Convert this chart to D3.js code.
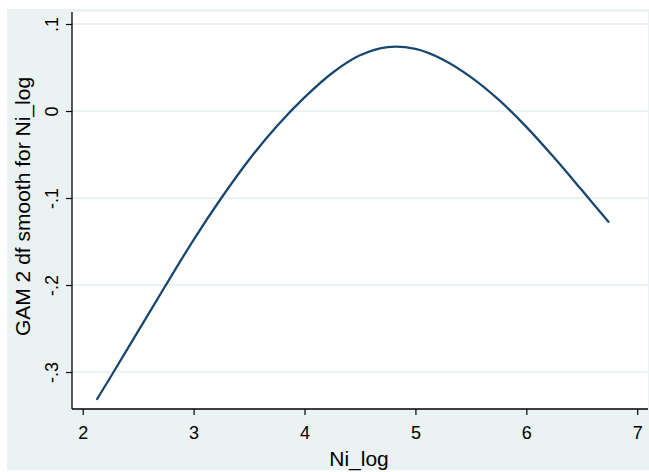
<!DOCTYPE html>
<html>
<head>
<meta charset="utf-8">
<script src="https://cdn.jsdelivr.net/npm/d3@7"></script>
<style>
body { margin: 0; background: #fff; }
text { font-family: "Liberation Sans", Arial, sans-serif; fill: #000; }
</style>
</head>
<body>
<div id="chart"></div>
<script>
// values
var niLog = [2.13, 2.25, 2.5, 2.75, 3.0, 3.25, 3.5, 3.75, 4.0, 4.25, 4.5, 4.75, 5.0, 5.25, 5.5, 5.75, 6.0, 6.25, 6.5, 6.74];
var gamFit = [-0.331, -0.306, -0.253, -0.200, -0.148, -0.100, -0.056, -0.0175, 0.0156, 0.0437, 0.064, 0.0735, 0.0713, 0.059, 0.039, 0.0131, -0.0182, -0.0535, -0.0909, -0.1274];
var xTicks = [2, 3, 4, 5, 6, 7];
var yTicks = [0.1, 0, -0.1, -0.2, -0.3];
var yTickLabels = [".1", "0", "-.1", "-.2", "-.3"];

var W = 649, H = 472;
var margin = {top: 12, right: 1, bottom: 63, left: 72},
    width = W - margin.left - margin.right,
    height = H - margin.top - margin.bottom;

var svg = d3.select("#chart").append("svg")
    .attr("width", W)
    .attr("height", H);

// outer graph region
svg.append("rect")
    .attr("x", 7).attr("y", 9)
    .attr("width", W - 7).attr("height", 461)
    .attr("fill", "#eaf2f3");

var g = svg.append("g")
    .attr("transform", "translate(" + margin.left + "," + margin.top + ")");

g.append("rect")
    .attr("width", width)
    .attr("height", height)
    .attr("fill", "#fff");

var x = d3.scaleLinear()
    .domain([1.9035, 7.097])
    .range([0, width]);
var y = d3.scaleLinear()
    .domain([-0.3425, 0.1138])
    .range([height, 0]);

// grid
g.selectAll(".grid")
    .data(yTicks)
    .enter().append("line")
    .attr("class", "grid")
    .attr("x1", 0)
    .attr("x2", width)
    .attr("y1", function(d) { return y(d); })
    .attr("y2", function(d) { return y(d); })
    .style("stroke", "#eaf2f3")
    .style("stroke-width", 2);

var pts = niLog.map(function(d, i) { return [d, gamFit[i]]; });

var line = d3.line()
    .curve(d3.curveCatmullRom.alpha(0.5))
    .x(function(d) { return x(d[0]); })
    .y(function(d) { return y(d[1]); });

g.append("path")
    .datum(pts)
    .attr("d", line)
    .attr("fill", "none")
    .attr("stroke", "#1a476f")
    .attr("stroke-width", 2.3)
    .attr("stroke-linecap", "round");

var xAxis = d3.axisBottom(x)
    .tickValues(xTicks)
    .tickSize(6)
    .tickPadding(11)
    .tickSizeOuter(0)
    .tickFormat(d3.format("d"));

var yAxis = d3.axisLeft(y)
    .tickValues(yTicks)
    .tickSize(6)
    .tickSizeOuter(0)
    .tickFormat(function(d, i) { return yTickLabels[i]; });

var gx = g.append("g")
    .attr("transform", "translate(0," + height + ")")
    .call(xAxis);
gx.select(".domain").attr("stroke", "#000").attr("stroke-width", 1.3).attr("d", "M0,0H" + width);
gx.selectAll(".tick line").attr("stroke", "#000").attr("stroke-width", 1.2);
gx.selectAll(".tick text").attr("font-size", 18).attr("fill", "#000");

var gy = g.append("g")
    .call(yAxis);
gy.select(".domain").attr("stroke", "#000").attr("stroke-width", 1.3).attr("d", "M0," + height + "V0");
gy.selectAll(".tick line").attr("stroke", "#000").attr("stroke-width", 1.2);
gy.selectAll(".tick text")
    .attr("font-size", 18)
    .attr("fill", "#000")
    .attr("x", null)
    .attr("dy", null)
    .attr("text-anchor", "middle")
    .attr("transform", "translate(-14.5,0) rotate(-90)");

// axis titles
g.append("text")
    .attr("x", width / 2 - 1)
    .attr("y", H - margin.top - 6)
    .attr("text-anchor", "middle")
    .attr("font-size", 21)
    .text("Ni_log");

g.append("text")
    .attr("transform", "translate(" + (30 - margin.left) + "," + (206.5 - margin.top) + ") rotate(-90)")
    .attr("text-anchor", "middle")
    .attr("font-size", 21)
    .text("GAM 2 df smooth for Ni_log");
</script>
</body>
</html>
